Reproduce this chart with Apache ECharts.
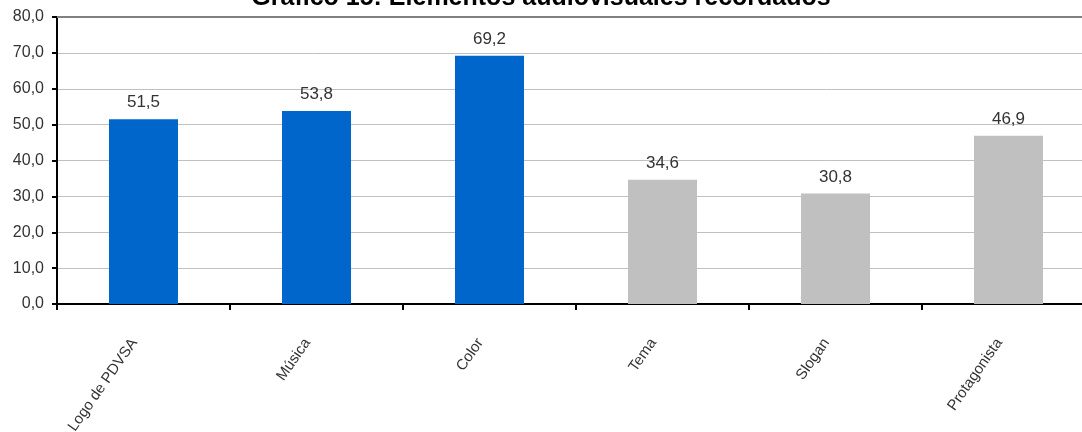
<!DOCTYPE html>
<html>
<head>
<meta charset="utf-8">
<script src="https://cdn.jsdelivr.net/npm/echarts@6/dist/echarts.min.js"></script>
<style>
  html, body { margin: 0; padding: 0; background: #fff; }
  #chart { width: 1082px; height: 432px; }
</style>
</head>
<body>
<div id="chart"></div>
<script>
// Elementos audiovisuales recordados (%)
const categories = ['Logo de PDVSA', 'Música', 'Color', 'Tema', 'Slogan', 'Protagonista'];
const values = [51.5, 53.8, 69.2, 34.6, 30.8, 46.9];
const yTicks = [0, 10, 20, 30, 40, 50, 60, 70, 80];
const titleText = 'Gráfico 15: Elementos audiovisuales recordados';

// the first three elements are drawn in blue, the rest in grey
const blueCount = 3;
const BLUE = '#0066CC';
const GREY = '#C0C0C0';

const fmt = v => Number(v).toFixed(1).replace('.', ',');

const chart = echarts.init(document.getElementById('chart'), null, { renderer: 'canvas' });

chart.setOption({
  animation: false,
  backgroundColor: '#ffffff',
  textStyle: { fontFamily: 'Liberation Sans, Arial, sans-serif' },
  title: {
    text: titleText,
    left: 536,
    textAlign: 'center',
    top: -19,
    textStyle: { fontSize: 25, fontWeight: 'bold', color: '#000', fontFamily: 'Liberation Sans, Arial, sans-serif' }
  },
  // the plot runs a little past the right edge of the page
  grid: { left: 57, right: -13, top: 17, bottom: 128, containLabel: false, outerBoundsMode: 'none' },
  xAxis: [
    {
      type: 'category',
      data: categories,
      position: 'bottom',
      axisLine: { lineStyle: { color: '#000', width: 2 } },
      axisTick: { show: true, length: 6, lineStyle: { color: '#000', width: 2 } },
      axisLabel: {
        rotate: 55,
        margin: 23,
        padding: [0, 16, 0, 0],
        interval: 0,
        fontSize: 15,
        color: '#333',
        fontFamily: 'Liberation Sans, Arial, sans-serif'
      },
      splitLine: { show: false }
    },
    {
      type: 'category',
      data: categories,
      position: 'top',
      axisLine: { lineStyle: { color: '#808080', width: 2 } },
      axisTick: { show: false },
      axisLabel: { show: false },
      splitLine: { show: false }
    }
  ],
  yAxis: {
    type: 'value',
    min: yTicks[0],
    max: yTicks[yTicks.length - 1],
    interval: yTicks[1] - yTicks[0],
    axisLine: { show: true, lineStyle: { color: '#000', width: 2 } },
    axisTick: { show: true, length: 5, lineStyle: { color: '#000', width: 2 } },
    axisLabel: {
      formatter: fmt,
      fontSize: 16,
      margin: 13,
      color: '#333',
      fontFamily: 'Liberation Sans, Arial, sans-serif'
    },
    splitLine: { show: true, lineStyle: { color: '#c0c0c0', width: 1 } }
  },
  series: [
    {
      type: 'bar',
      xAxisIndex: 0,
      data: values,
      barWidth: 69,
      itemStyle: {
        color: p => (p.dataIndex < blueCount ? BLUE : GREY)
      },
      label: {
        show: true,
        position: 'top',
        distance: 8,
        formatter: p => fmt(p.value),
        fontSize: 17,
        color: '#333',
        fontFamily: 'Liberation Sans, Arial, sans-serif'
      }
    }
  ]
});
</script>
</body>
</html>
